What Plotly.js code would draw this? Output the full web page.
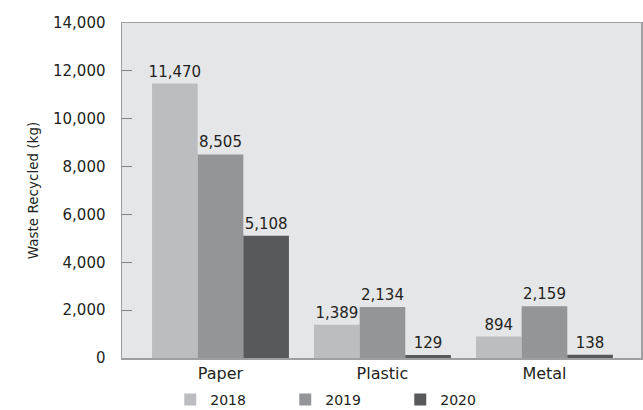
<!DOCTYPE html>
<html>
<head>
<meta charset="utf-8">
<script src="https://cdn.plot.ly/plotly-3.0.1.min.js"></script>
<style>html,body{margin:0;padding:0;background:#fff;}#chart{width:643px;height:410px;}</style>
</head>
<body>
<div id="chart"></div>
<script>
const categories = ["Paper", "Plastic", "Metal"];
const years = ["2018", "2019", "2020"];
const values2018 = [11470, 1389, 894];
const values2019 = [8505, 2134, 2159];
const values2020 = [5108, 129, 138];
const colors = ["#bcbdc0", "#939598", "#58595b"];
const yTicks = [0, 2000, 4000, 6000, 8000, 10000, 12000, 14000];

const series = [values2018, values2019, values2020];
const fontFam = "'DejaVu Sans', sans-serif";
const textColor = "#231f20";
const traces = series.map((vals, i) => ({
  type: "bar",
  name: years[i],
  x: categories,
  y: vals,
  marker: {color: colors[i]},
  text: vals.map(v => v.toLocaleString("en-US")),
  textposition: "outside",
  constraintext: "none",
  cliponaxis: false,
  textfont: {family: fontFam, size: 15, color: textColor},
  hoverinfo: "x+y+name"
}));

const layout = {
  width: 643, height: 410,
  margin: {l: 122, r: 2, t: 23, b: 52, autoexpand: false},
  paper_bgcolor: "#ffffff",
  plot_bgcolor: "#e5e6e8",
  barmode: "group",
  bargap: 0.155,
  bargroupgap: 0,
  font: {family: fontFam, size: 15, color: textColor},
  xaxis: {
    type: "category",
    range: [-0.608, 2.596],
    showline: true, linecolor: "#9d9fa2", linewidth: 1.5, mirror: true,
    ticks: "", showgrid: false, zeroline: false,
    tickfont: {family: fontFam, size: 16, color: textColor}
  },
  yaxis: {
    range: [0, 14000],
    tickvals: yTicks,
    ticktext: yTicks.map(v => v.toLocaleString("en-US")),
    showline: true, linecolor: "#9d9fa2", linewidth: 1.5, mirror: true,
    ticks: "inside", ticklen: 10, tickcolor: "#808285", tickwidth: 1,
    ticklabelstandoff: 12,
    showgrid: false, zeroline: false,
    tickfont: {family: fontFam, size: 15, color: textColor},
    title: {text: "Waste Recycled (kg)", font: {family: fontFam, size: 13.5, color: textColor}, standoff: 11}
  },
  showlegend: true,
  legend: {
    orientation: "h",
    x: 0.093, xanchor: "left",
    y: -0.125, yanchor: "middle",
    font: {family: fontFam, size: 14, color: textColor},
    entrywidth: 70, entrywidthmode: "pixels",
    bgcolor: "rgba(0,0,0,0)",
    traceorder: "normal"
  }
};

Plotly.newPlot("chart", traces, layout, {staticPlot: true, displayModeBar: false});
</script>
</body>
</html>
